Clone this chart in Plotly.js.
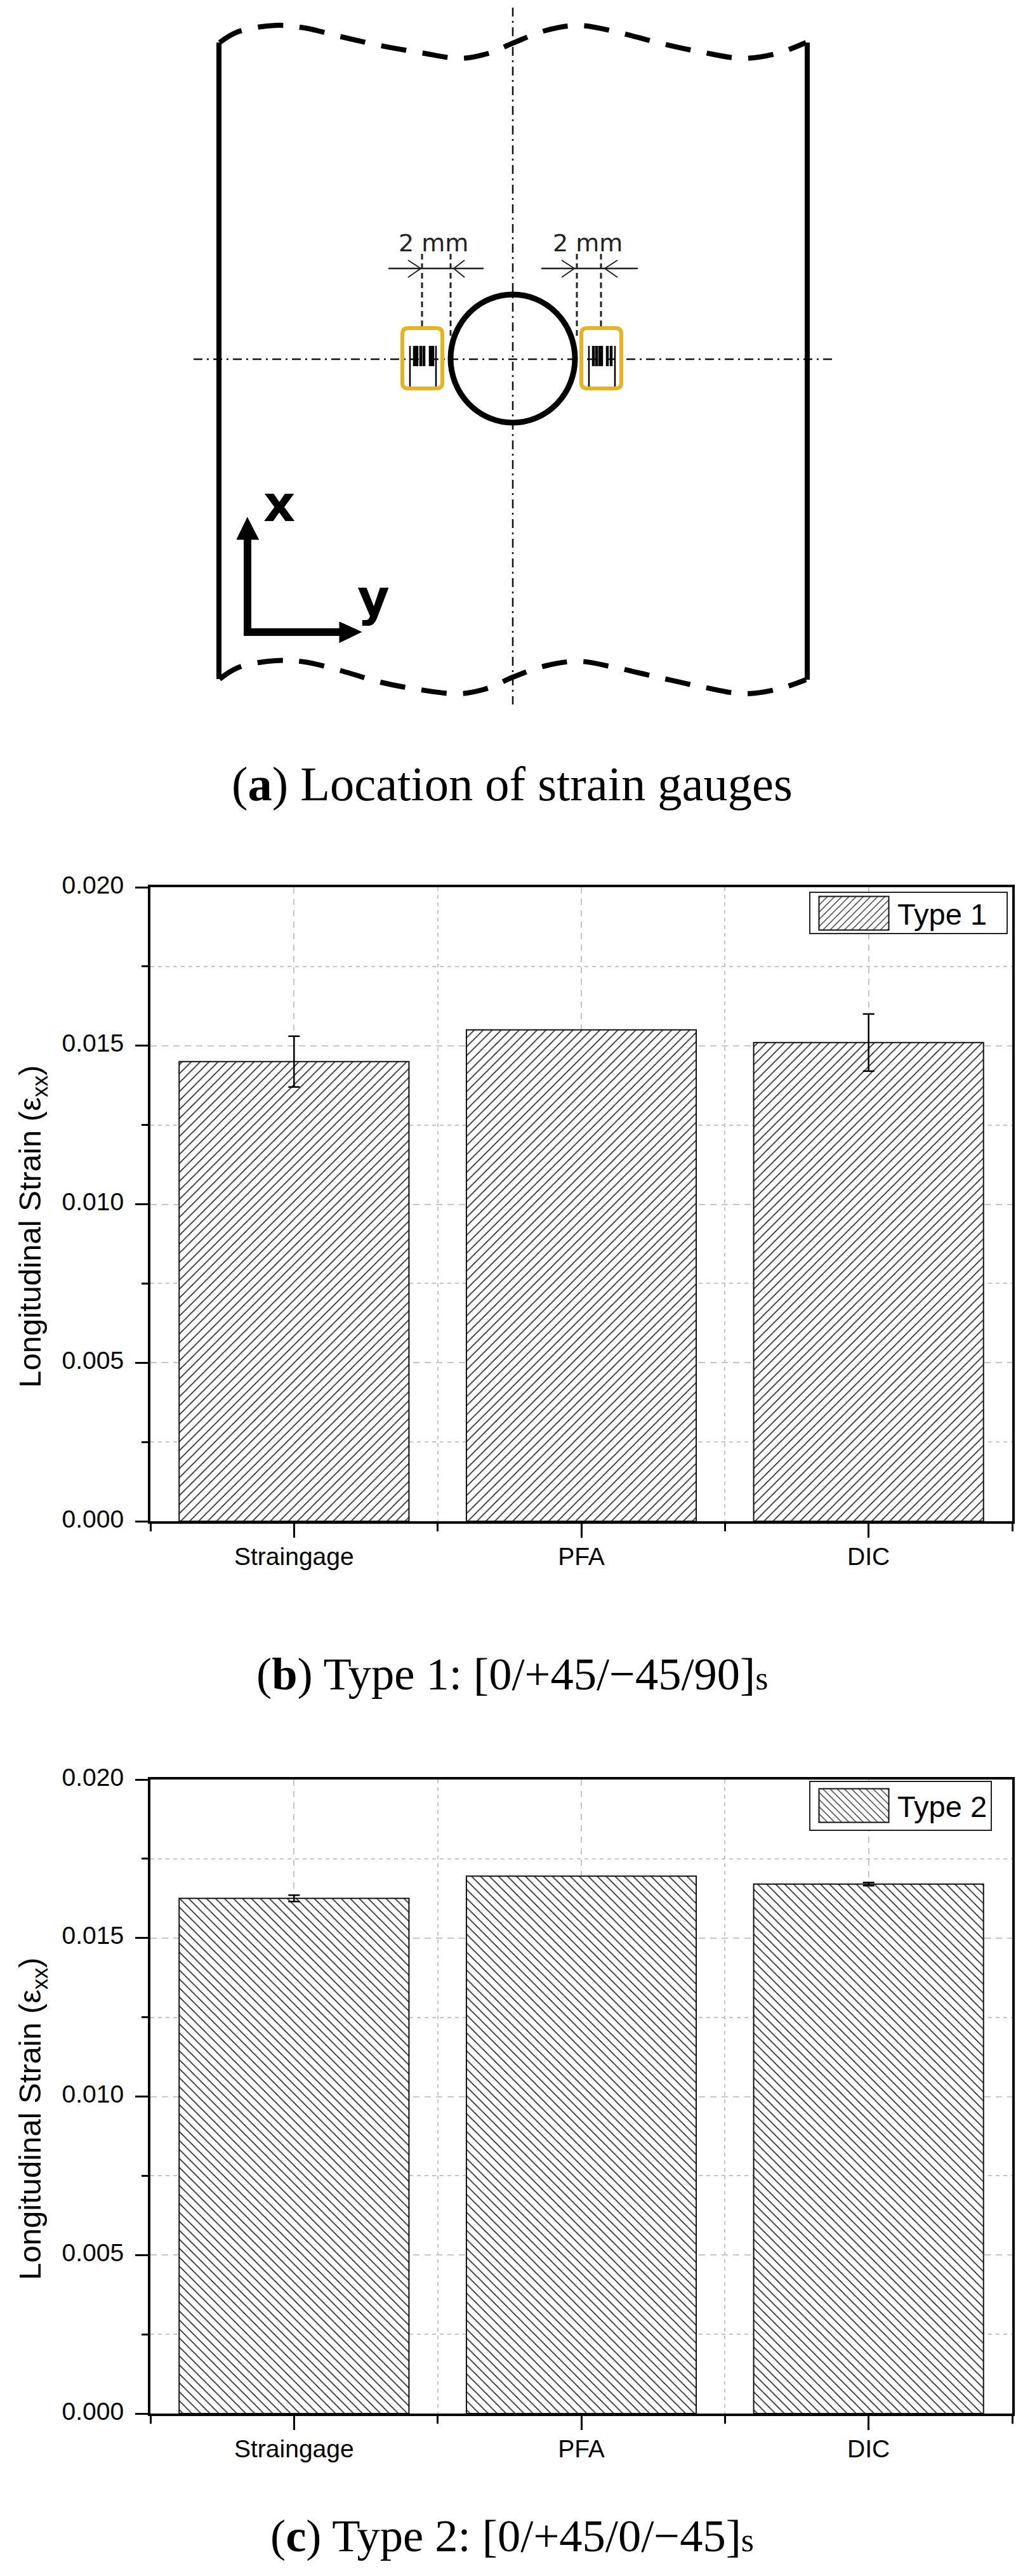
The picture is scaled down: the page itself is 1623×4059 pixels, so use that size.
<!DOCTYPE html>
<html>
<head>
<meta charset="utf-8">
<title>Strain gauges</title>
<script src="https://cdn.plot.ly/plotly-3.0.1.min.js"></script>
<style>
  body { margin: 0; background: #fff; }
</style>
</head>
<body>
<div id="chart" style="width:1623px;height:4059px"></div>
<script>
const categories = ['Straingage', 'PFA', 'DIC'];
const categoryPos = [0, 1, 2];
const type1Strain = [0.0145, 0.0155, 0.0151];
const type1Error = [0.0008, NaN, 0.0009]; // PFA has no error bar
const type2Strain = [0.01625, 0.01695, 0.0167];
const type2Error = [0.0001, NaN, 0.00005];

// schematic (a) in page pixels
const waveX = [346, 375, 434, 480, 538, 600, 663, 725, 770, 808, 860, 912, 970, 1036, 1105, 1171, 1225, 1270];
const waveTopY = [67, 50, 40, 44, 58, 72, 83, 92, 84, 68, 48, 40, 50, 67, 82, 92, 84, 67];
const waveBottomY = [1070, 1052, 1041, 1043, 1057, 1075, 1087, 1093, 1084, 1067, 1049, 1042, 1052, 1067, 1082, 1093, 1086, 1071];
const wallX = [[345, 345], [1272, 1272]];
const wallY = [[67, 1070], [67, 1071]];
const centerLineX = [808, 808];
const centerLineY = [12, 1110];
const crossLineX = [305, 1315];
const crossLineY = [566, 566];
const dimLines = [[612, 762], [853, 1005]];
const dimY = 423;
const dimGuidesX = [665, 710, 909, 947];
const dimGuidesY = [[400, 517], [400, 530], [400, 530], [400, 517]];
const chevronX = [[643, 663, 643], [732, 715, 732], [885, 905, 885], [973, 953, 973]];
const chevronY = [410, 423, 437];
const gaugeLongX = [646, 687, 928, 969];
const gaugeShortX = [653, 657, 663, 668, 678, 682, 935, 940, 945, 948, 957, 963];
const gaugeBoxes = [[634, 697], [916, 979]];
const gaugeBoxY = [517, 612];
const axisArrowX = [[390, 390], [384, 540]];
const axisArrowY = [[1000, 845], [996, 996]];
const axisHeadX = [[390, 373, 408], [570, 535, 535]];
const axisHeadY = [[815, 850, 850], [996, 980, 1013]];

const SANS = 'Liberation Sans, Arial, sans-serif';
const SERIF = 'Liberation Serif, Times New Roman, serif';
const PAGE_W = 1623;
const PAGE_H = 4059;

function px(x) { return x / PAGE_W; }
function py(y) { return 1 - y / PAGE_H; }

function barTrace(name, values, errors, shape, axisX, axisY, legendId) {
  return {
    type: 'bar',
    name: name,
    x: categoryPos,
    y: values,
    width: 0.8,
    xaxis: axisX,
    yaxis: axisY,
    legend: legendId,
    marker: {
      color: '#fff',
      line: { color: '#111', width: 2 },
      pattern: { shape: shape, size: 10, solidity: 0.16, fgcolor: '#222', bgcolor: '#fff' }
    },
    error_y: { type: 'data', array: errors, visible: true, color: '#000', thickness: 2.5, width: 9 }
  };
}

function xAxisFor(anchor) {
  return {
    domain: [px(237), px(1595)],
    anchor: anchor,
    type: 'linear',
    range: [-0.5, 2.5],
    tickmode: 'array',
    tickvals: categoryPos,
    ticktext: categories,
    showline: true, mirror: true, linecolor: '#000', linewidth: 4,
    ticks: 'outside', ticklen: 22, tickwidth: 3, tickcolor: '#000',
    tickfont: { family: SANS, size: 39, color: '#000' },
    ticklabelstandoff: -4,
    showgrid: true, gridcolor: '#c6c6c6', gridwidth: 2, griddash: '10px,8px',
    zeroline: false,
    minor: {
      ticks: 'outside', ticklen: 12, tickwidth: 3, tickcolor: '#000',
      tick0: -0.5, dtick: 1,
      showgrid: true, gridcolor: '#c6c6c6', gridwidth: 2, griddash: '6px,6px'
    }
  };
}

function yAxisFor(top, bottom, anchor) {
  return {
    domain: [py(bottom), py(top)],
    anchor: anchor,
    range: [0, 0.02],
    dtick: 0.005,
    tickformat: '.3f',
    showline: true, mirror: true, linecolor: '#000', linewidth: 4,
    ticks: 'outside', ticklen: 20, tickwidth: 3, tickcolor: '#000',
    tickfont: { family: SANS, size: 39, color: '#000' },
    ticklabelstandoff: 10,
    ticklabelshift: -4,
    showgrid: true, gridcolor: '#c6c6c6', gridwidth: 2, griddash: '10px,8px',
    zeroline: false,
    title: {
      text: 'Longitudinal Strain (ε<sub>xx</sub>)',
      font: { family: SANS, size: 49, color: '#000' },
      standoff: 18
    },
    minor: {
      ticks: 'outside', ticklen: 10, tickwidth: 3, tickcolor: '#000',
      dtick: 0.0025,
      showgrid: true, gridcolor: '#c6c6c6', gridwidth: 2, griddash: '6px,6px'
    }
  };
}

function legendFor(top) {
  return {
    x: px(1275),
    y: py(top),
    xanchor: 'left',
    yanchor: 'top',
    bgcolor: '#fff',
    bordercolor: '#222',
    borderwidth: 2,
    itemwidth: 127,
    font: { family: SANS, size: 47, color: '#000' }
  };
}

function sketch(x, y, width, dash, color) {
  return {
    type: 'scatter', mode: 'lines', x: x, y: y, xaxis: 'x3', yaxis: 'y3',
    showlegend: false, hoverinfo: 'skip',
    line: { color: color || '#000', width: width, dash: dash || 'solid' }
  };
}

function sketchFill(x, y) {
  return {
    type: 'scatter', mode: 'lines', x: x, y: y, xaxis: 'x3', yaxis: 'y3',
    showlegend: false, hoverinfo: 'skip', fill: 'toself', fillcolor: '#000',
    line: { color: '#000', width: 1 }
  };
}

function spline(trace) {
  trace.line.shape = 'spline';
  return trace;
}

function verticals(xs, y0, y1, width) {
  let x = [], y = [];
  for (let i = 0; i < xs.length; i++) {
    x.push(xs[i], xs[i], null);
    y.push(y0, y1, null);
  }
  return sketch(x, y, width);
}

function roundBox(x0, x1, y0, y1, r) {
  return {
    type: 'path', xref: 'x3', yref: 'y3',
    line: { color: '#e6b422', width: 6 },
    path: 'M' + (x0 + r) + ',' + y0 + 'L' + (x1 - r) + ',' + y0 + 'Q' + x1 + ',' + y0 + ' ' + x1 + ',' + (y0 + r) +
      'L' + x1 + ',' + (y1 - r) + 'Q' + x1 + ',' + y1 + ' ' + (x1 - r) + ',' + y1 +
      'L' + (x0 + r) + ',' + y1 + 'Q' + x0 + ',' + y1 + ' ' + x0 + ',' + (y1 - r) +
      'L' + x0 + ',' + (y0 + r) + 'Q' + x0 + ',' + y0 + ' ' + (x0 + r) + ',' + y0 + 'Z'
  };
}

function caption(text, bottom, size) {
  return {
    text: text, showarrow: false,
    xref: 'paper', yref: 'paper', x: px(807), y: py(bottom),
    xanchor: 'center', yanchor: 'bottom',
    font: { family: SERIF, size: size, color: '#000' }
  };
}

function sketchLabel(text, x, y, size, family, weight, color) {
  return {
    text: text, showarrow: false, xref: 'x3', yref: 'y3', x: x, y: y,
    xanchor: 'center', yanchor: 'middle',
    font: { family: family, size: size, color: color || '#000', weight: weight || 400 }
  };
}

const DASH_DOT = '14px,7px,3px,7px';
const WAVE_DASH = '40px,26px';

let traces = [
  barTrace('Type 1', type1Strain, type1Error, '/', 'x', 'y', 'legend'),
  barTrace('Type 2', type2Strain, type2Error, '\\', 'x2', 'y2', 'legend2'),
  sketch(centerLineX, centerLineY, 2.5, DASH_DOT, '#111'),
  sketch(crossLineX, crossLineY, 2.5, DASH_DOT, '#111'),
  spline(sketch(waveX, waveTopY, 8, WAVE_DASH)),
  spline(sketch(waveX, waveBottomY, 8, WAVE_DASH))
];

for (let i = 0; i < wallX.length; i++) {
  traces.push(sketch(wallX[i], wallY[i], 8));
}
for (let i = 0; i < dimLines.length; i++) {
  traces.push(sketch(dimLines[i], [dimY, dimY], 2.5, 'solid', '#222'));
}
for (let i = 0; i < dimGuidesX.length; i++) {
  traces.push(sketch([dimGuidesX[i], dimGuidesX[i]], dimGuidesY[i], 3, '9px,6px', '#222'));
}
for (let i = 0; i < chevronX.length; i++) {
  traces.push(sketch(chevronX[i], chevronY, 2, 'solid', '#222'));
}
traces.push(verticals(gaugeLongX, 545, 612, 2.5));
traces.push(verticals(gaugeShortX, 545, 577, 4.5));
for (let i = 0; i < axisArrowX.length; i++) {
  traces.push(sketch(axisArrowX[i], axisArrowY[i], 12));
  traces.push(sketchFill(axisHeadX[i], axisHeadY[i]));
}

const layout = {
  width: PAGE_W,
  height: PAGE_H,
  margin: { l: 0, r: 0, t: 0, b: 0, pad: 0 },
  paper_bgcolor: '#fff',
  plot_bgcolor: '#fff',
  showlegend: true,
  xaxis: xAxisFor('y'),
  yaxis: yAxisFor(1398, 2397, 'x'),
  xaxis2: xAxisFor('y2'),
  yaxis2: yAxisFor(2804, 3803, 'x2'),
  xaxis3: { domain: [0, 1], range: [0, PAGE_W], visible: false, anchor: 'y3' },
  yaxis3: { domain: [py(1300), 1], range: [1300, 0], visible: false, anchor: 'x3' },
  legend: legendFor(1400),
  legend2: legendFor(2806),
  shapes: [
    {
      type: 'circle', xref: 'x3', yref: 'y3',
      x0: 710, x1: 906, y0: 464, y1: 666,
      line: { color: '#000', width: 9 }
    },
    roundBox(gaugeBoxes[0][0], gaugeBoxes[0][1], gaugeBoxY[0], gaugeBoxY[1], 9),
    roundBox(gaugeBoxes[1][0], gaugeBoxes[1][1], gaugeBoxY[0], gaugeBoxY[1], 9)
  ],
  annotations: [
    sketchLabel('2 mm', 683, 383, 38, 'DejaVu Sans', 400, '#222'),
    sketchLabel('2 mm', 926, 383, 38, 'DejaVu Sans', 400, '#222'),
    sketchLabel('x', 440, 794, 78, 'DejaVu Sans', 700),
    sketchLabel('y', 588, 942, 78, 'DejaVu Sans', 700),
    caption('(<b>a</b>) Location of strain gauges', 1280, 76.5),
    caption('(<b>b</b>) Type 1: [0/+45/−45/90]<span style="font-size:52px">s</span>', 2680, 72.5),
    caption('(<b>c</b>) Type 2: [0/+45/0/−45]<span style="font-size:52px">s</span>', 4038, 72.5)
  ]
};

Plotly.newPlot('chart', traces, layout, { displayModeBar: false }).then(function () {
  // the library keeps bar swatches at 12px, the original legend has a wide one
  document.querySelectorAll('.legendpoints path').forEach(function (p) {
    p.setAttribute('d', 'M55,26.5H-55V-26.5H55Z');
  });
  // legend box is slimmer and wider than the auto size
  document.querySelectorAll('.legend rect.bg').forEach(function (r) {
    let h = parseFloat(r.getAttribute('height'));
    r.setAttribute('y', (h - 65) / 2);
    r.setAttribute('height', 65);
    r.setAttribute('width', 311);
  });
  // title sits below the middle of the axis in the original
  document.querySelectorAll('.ytitle, .y2title').forEach(function (t) {
    t.setAttribute('transform', t.getAttribute('transform') + ' translate(-35,0)');
  });
});
</script>
</body>
</html>
